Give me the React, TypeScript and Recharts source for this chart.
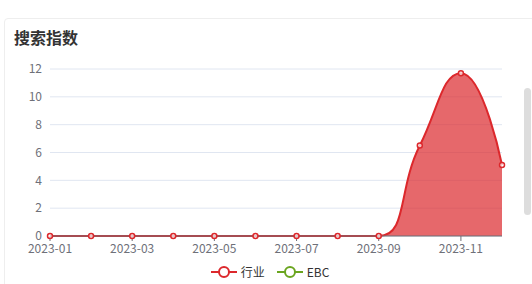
import { AreaChart, Area, XAxis, YAxis, CartesianGrid } from 'recharts';

const months = ['2023-01', '2023-02', '2023-03', '2023-04', '2023-05', '2023-06', '2023-07', '2023-08', '2023-09', '2023-10', '2023-11', '2023-12'];
const industry = [0, 0, 0, 0, 0, 0, 0, 0, 0, 6.5, 11.7, 5.1];
// EBC has no values drawn in the chart, only its legend entry
const ebc: (number | null)[] = [null, null, null, null, null, null, null, null, null, null, null, null];
const yTicks = [0, 2, 4, 6, 8, 10, 12];

const RED = '#dc282c';
const GREEN = '#6aa51f';
const FONT = '"Noto Sans CJK SC", "Noto Sans", sans-serif';

const data = months.map((m, i) => ({ month: m, industry: industry[i], ebc: ebc[i] }));

// curve factory that smooths like echarts (smooth: 0.5, control points clamped to neighbours)
function smoothCurve(context: any) {
  const s = 0.5;
  let pts: [number, number][] = [];
  let line = NaN;
  return {
    areaStart() { line = 0; },
    areaEnd() { line = NaN; },
    lineStart() { pts = []; },
    point(x: number, y: number) { pts.push([+x, +y]); },
    lineEnd() {
      const n = pts.length;
      if (n) {
        const [x0, y0] = pts[0];
        if (line) context.lineTo(x0, y0);
        else context.moveTo(x0, y0);
        let cp0x = x0, cp0y = y0;
        for (let i = 1; i < n; i++) {
          const [x, y] = pts[i];
          const [px, py] = pts[i - 1];
          let cp1x = x, cp1y = y, ncx = x, ncy = y;
          if (i < n - 1) {
            const [nx, ny] = pts[i + 1];
            let vx = nx - px, vy = ny - py;
            const lp = Math.hypot(x - px, y - py);
            const ln = Math.hypot(nx - x, ny - y);
            const r = ln / (ln + lp);
            ncx = x + vx * s * r;
            ncy = y + vy * s * r;
            ncx = Math.max(Math.min(ncx, Math.max(nx, x)), Math.min(nx, x));
            ncy = Math.max(Math.min(ncy, Math.max(ny, y)), Math.min(ny, y));
            vx = ncx - x; vy = ncy - y;
            cp1x = x - vx * lp / ln;
            cp1y = y - vy * lp / ln;
            cp1x = Math.max(Math.min(cp1x, Math.max(px, x)), Math.min(px, x));
            cp1y = Math.max(Math.min(cp1y, Math.max(py, y)), Math.min(py, y));
            vx = x - cp1x; vy = y - cp1y;
            ncx = x + vx * ln / lp;
            ncy = y + vy * ln / lp;
          }
          context.bezierCurveTo(cp0x, cp0y, cp1x, cp1y, x, y);
          cp0x = ncx; cp0y = ncy;
        }
      }
      if (line || (line !== 0 && n === 1)) context.closePath();
      line = 1 - line;
    },
  };
}

function LegendItem({ color, label }: { color: string; label: string }) {
  return (
    <span style={{ display: 'inline-flex', alignItems: 'center', margin: '0 6px' }}>
      <svg width={26} height={14}>
        <line x1={0} y1={7} x2={26} y2={7} stroke={color} strokeWidth={2} />
        <circle cx={13} cy={7} r={5} fill="#fff" stroke={color} strokeWidth={2} />
      </svg>
      <span style={{ marginLeft: 4 }}>{label}</span>
    </span>
  );
}

export default function App() {
  return (
    <div style={{ position: 'absolute', left: 0, top: 0, width: 532, height: 284, overflow: 'hidden', background: '#fff', fontFamily: FONT }}>
      <div style={{ position: 'absolute', left: 4, top: 18, width: 560, height: 300, border: '1px solid #eeeeee', borderRadius: 4 }} />
      <div style={{ position: 'absolute', left: 14, top: 25, fontSize: 16, fontWeight: 'bold', color: '#333' }}>搜索指数</div>
      <div style={{ position: 'absolute', left: 524, top: 88, width: 7, height: 127, background: '#dddddd', borderRadius: 4 }} />
      <div style={{ position: 'absolute', left: 0, top: 0 }}>
        <AreaChart width={532} height={284} data={data} margin={{ top: 69, right: 30, bottom: 18, left: 10 }}>
          <CartesianGrid vertical={false} stroke="#e0e6f1" />
          <XAxis
            dataKey="month"
            interval={1}
            tickSize={5}
            tickMargin={3}
            height={30}
            stroke="#6e7079"
            tick={{ fill: '#6e7079', fontSize: 12, fontFamily: FONT }}
          />
          <YAxis
            ticks={yTicks}
            domain={[0, 12]}
            width={40}
            axisLine={false}
            tickLine={false}
            tick={{ fill: '#6e7079', fontSize: 12, fontFamily: FONT }}
          />
          <Area
            type={smoothCurve as any}
            dataKey="ebc"
            stroke={GREEN}
            strokeWidth={2}
            fill={GREEN}
            fillOpacity={0}
            dot={{ r: 2.5, fill: '#fff', stroke: GREEN, strokeWidth: 1.5 }}
            isAnimationActive={false}
          />
          <Area
            type={smoothCurve as any}
            dataKey="industry"
            stroke={RED}
            strokeWidth={2}
            fill={RED}
            fillOpacity={0.7}
            dot={{ r: 2.5, fill: '#fff', stroke: RED, strokeWidth: 1.5 }}
            isAnimationActive={false}
          />
        </AreaChart>
      </div>
      <div style={{ position: 'absolute', left: 0, width: 540, top: 263, fontSize: 12, color: '#333', display: 'flex', justifyContent: 'center' }}>
        <LegendItem color={RED} label="行业" />
        <LegendItem color={GREEN} label="EBC" />
      </div>
    </div>
  );
}
